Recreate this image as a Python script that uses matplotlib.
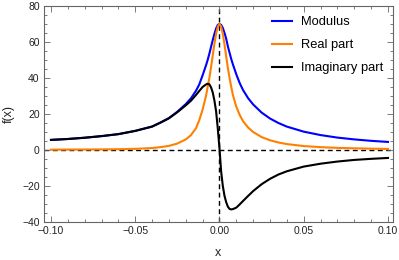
import matplotlib
matplotlib.use("Agg")
import matplotlib.pyplot as plt
from matplotlib.ticker import MultipleLocator

plt.rcParams['font.family'] = ['Liberation Sans', 'DejaVu Sans']

# values
x = [-0.100, -0.090, -0.080, -0.070, -0.060, -0.050, -0.040, -0.035, -0.030, -0.025,
     -0.020, -0.017, -0.014, -0.012, -0.010, -0.008, -0.007, -0.006, -0.005, -0.004,
     -0.003, -0.002, -0.001, 0.000, 0.001, 0.002, 0.003, 0.004, 0.005, 0.006,
     0.007, 0.008, 0.010, 0.012, 0.014, 0.017, 0.020, 0.025, 0.030, 0.035,
     0.040, 0.050, 0.060, 0.070, 0.080, 0.090, 0.100]

modulus = [5.65, 6.15, 6.85, 7.75, 8.85, 10.65, 13.05, 15.3, 17.75, 21.3,
           25.5, 28.6, 32.8, 36.4, 41.5, 47.0, 50.0, 53.5, 57.3, 61.0,
           64.5, 67.5, 69.5, 70.0, 69.5, 67.8, 65.0, 61.8, 57.5, 54.0,
           50.5, 47.5, 42.0, 37.2, 33.3, 28.8, 25.3, 20.8, 17.5, 15.0,
           13.0, 10.2, 8.3, 6.9, 5.9, 5.1, 4.5]

real_part = [0.2, 0.25, 0.3, 0.35, 0.45, 0.65, 1.1, 1.6, 2.3, 3.6,
             5.9, 8.2, 12.0, 16.5, 22.5, 30.0, 35.0, 40.0, 46.0, 52.5,
             59.0, 64.5, 68.5, 70.0, 68.5, 64.5, 58.5, 52.0, 45.5, 40.0,
             35.0, 30.5, 24.0, 19.5, 16.0, 12.5, 10.0, 7.2, 5.4, 4.2,
             3.3, 2.2, 1.6, 1.2, 0.95, 0.75, 0.6]

imag_part = [5.6, 6.1, 6.8, 7.7, 8.8, 10.6, 13.0, 15.2, 17.6, 21.0,
             24.8, 27.3, 30.5, 32.8, 35.0, 36.4, 36.8, 36.5, 34.8, 32.0,
             27.5, 21.5, 12.0, 1.0, -12.0, -20.0, -25.5, -29.0, -31.5, -32.7,
             -33.0, -32.8, -32.0, -30.2, -28.3, -25.5, -22.8, -19.0, -16.0, -13.6,
             -11.8, -9.2, -7.6, -6.4, -5.5, -4.9, -4.4]

fig = plt.figure(figsize=(3.99, 2.60), dpi=100)
ax = fig.add_axes([0.110, 0.146, 0.875, 0.831])

ax.axhline(0, color='black', lw=1.0, dashes=(3.5, 2.5), zorder=1)
ax.axvline(0, color='black', lw=1.0, dashes=(3.5, 2.5), zorder=1)

ax.plot(x, modulus, color='#0000ff', lw=1.5, label='Modulus', zorder=2)
ax.plot(x, real_part, color='#ff8000', lw=1.5, label='Real part', zorder=3)
ax.plot(x, imag_part, color='black', lw=1.5, label='Imaginary part', zorder=4)

ax.set_xlim(-0.1042, 0.1030)
ax.set_ylim(-40, 80)
ax.xaxis.set_major_locator(MultipleLocator(0.05))
ax.xaxis.set_minor_locator(MultipleLocator(0.01))
ax.yaxis.set_major_locator(MultipleLocator(20))
ax.yaxis.set_minor_locator(MultipleLocator(5))
ax.xaxis.set_major_formatter(plt.FuncFormatter(lambda v, p: f"{v:.2f}".replace('-', '\u2212')))

for s in ax.spines.values():
    s.set_color('#666666')
    s.set_linewidth(0.8)
ax.tick_params(which='both', direction='in', top=True, right=True, color='#666666',
               labelsize=7.5, labelcolor='#222222', width=0.6)
ax.tick_params(which='major', length=4, pad=3)
ax.tick_params(which='minor', length=2)

ax.set_xlabel('x', fontsize=9, color='#222222', labelpad=8)
ax.set_ylabel('f(x)', fontsize=9, color='#222222', labelpad=5)

ax.legend(loc='upper left', bbox_to_anchor=(0.652, 0.952), frameon=False, fontsize=9.3,
          handlelength=1.6, handletextpad=0.65, labelspacing=0.85, borderpad=0,
          borderaxespad=0)

fig.savefig('out.png', dpi=100)
